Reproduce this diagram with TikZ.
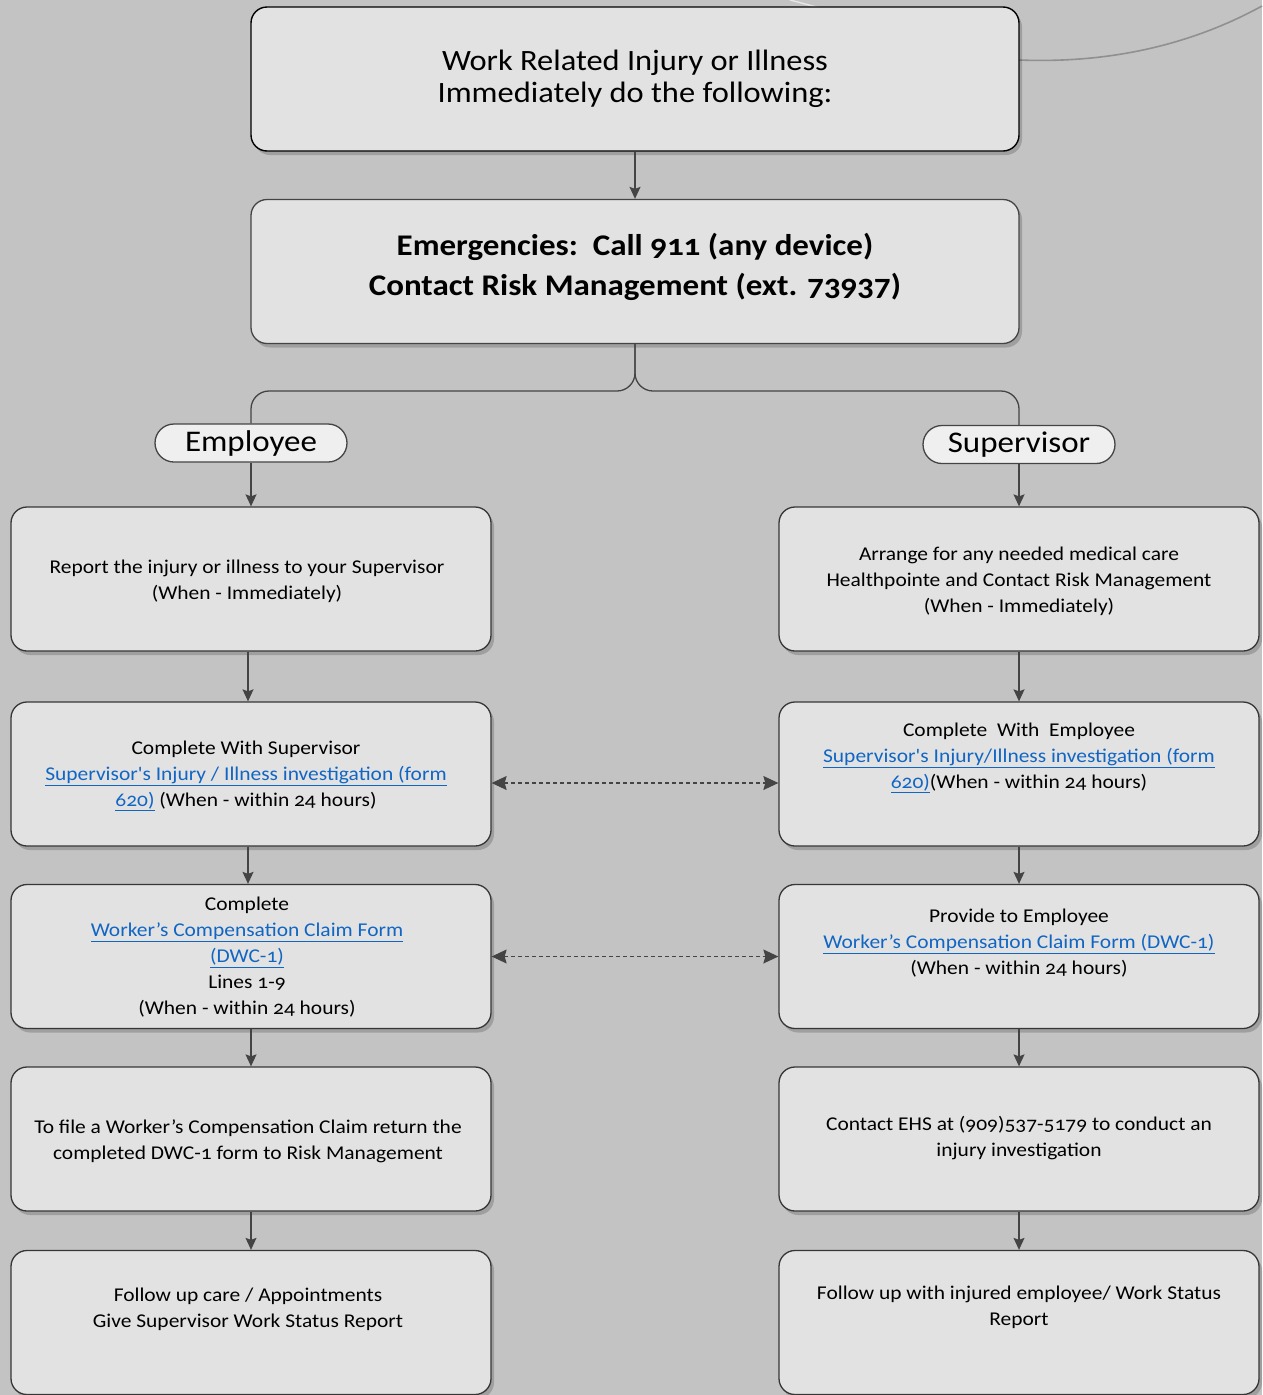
\documentclass[tikz,border=0pt]{standalone}
\usepackage{fontspec}
\setmainfont{Carlito}[Numbers=OldStyle, FakeStretch=1.1, Ligatures=TeXOff]
\usetikzlibrary{arrows.meta,shadows,calc}
\definecolor{bg}{HTML}{C3C3C3}
\definecolor{boxfill}{HTML}{E2E2E2}
\definecolor{pillfill}{HTML}{EFEFEF}
\definecolor{lnc}{HTML}{444444}
\definecolor{linkc}{HTML}{1166C4}
\newcommand\lnk[1]{\textcolor{linkc}{\underline{#1}}}
\begin{document}
\begin{tikzpicture}[x=1pt,y=-1pt,
  bigbox/.style={draw=black, line width=1.4pt, fill=boxfill, rounded corners=16pt,
    minimum width=768pt, minimum height=144pt, inner sep=0pt,
    drop shadow={shadow xshift=3pt, shadow yshift=-4pt, fill=black, opacity=0.18}},
  stepbox/.style={draw=lnc!80!black, line width=1.3pt, fill=boxfill, rounded corners=16pt,
    minimum width=480pt, minimum height=144pt, inner sep=0pt,
    drop shadow={shadow xshift=3pt, shadow yshift=-4pt, fill=black, opacity=0.18}},
  pill/.style={draw=lnc, line width=1.3pt, fill=pillfill, rounded corners=19pt,
    minimum width=192pt, minimum height=38pt, inner sep=0pt, font=\fontsize{30}{32}\selectfont},
  boxtext/.style={align=center, inner sep=0pt, font=\fontsize{19.5}{26}\selectfont},
  arr/.style={draw=lnc, line width=1.3pt, -{Stealth[length=12pt,width=11pt,inset=2pt]}},
  darr/.style={draw=lnc, line width=1.1pt, dashed, dash pattern=on 4pt off 3pt,
    {Stealth[length=15pt,width=14pt,inset=2pt]}-{Stealth[length=15pt,width=14pt,inset=2pt]}}
]
\fill[bg] (0,0) rectangle (1262,1395);
\useasboundingbox (0,0) rectangle (1262,1395);
% decorative curves
\draw[gray!75!bg, line width=1.6pt] (1019,60) .. controls (1120,64) and (1200,40) .. (1262,6);
\draw[white!60!bg, line width=1.4pt] (790,0) .. controls (860,18) and (940,45) .. (1019,52);

% top boxes
\node[bigbox, font=\fontsize{29.5}{32}\selectfont, align=center] (b1) at (635,79)
  {Work Related Injury or Illness\\Immediately do the following:};
\node[bigbox, draw=lnc, line width=1.3pt] (b2) at (635,271.5) {};
\node[align=center, inner sep=0pt, font=\fontsize{30}{40}\bfseries\selectfont] (tb2) at ([yshift=5pt]b2.center)
  {Emergencies:\ \ Call 911 (any device)\\Contact Risk Management (ext. 73937)};

% pills
\node[pill] (emp) at (251,443) {Employee};
\node[pill] (sup) at (1019,444.5) {Supervisor};

% left column boxes
\node[stepbox] (l1) at (251,579) {};
\node[stepbox] (l2) at (251,774) {};
\node[stepbox] (l3) at (251,956.5) {};
\node[stepbox] (l4) at (251,1139) {};
\node[stepbox] (l5) at (251,1322.5) {};
% right column boxes
\node[stepbox] (r1) at (1019,579) {};
\node[stepbox] (r2) at (1019,774) {};
\node[stepbox] (r3) at (1019,956.5) {};
\node[stepbox] (r4) at (1019,1139) {};
\node[stepbox] (r5) at (1019,1322.5) {};

% texts
\node[boxtext] (tl1) at ([xshift=-4pt,yshift=-2pt]l1.center) {Report the injury or illness to your Supervisor\\(When - Immediately)};
\node[boxtext] (tl2) at ([xshift=-5pt,yshift=-2pt]l2.center) {Complete With Supervisor\\\lnk{Supervisor's Injury / Illness investigation (form}\\\lnk{620)} (When - within 24 hours)};
\node[boxtext] (tl3) at ([xshift=-4pt,yshift=-1pt]l3.center) {Complete\\\lnk{Worker’s Compensation Claim Form}\\\lnk{(DWC-1)}\\Lines 1-9\\(When - within 24 hours)};
\node[boxtext] (tl4) at ([xshift=-3pt,yshift=-2pt]l4.center) {To file a Worker’s Compensation Claim return the\\completed DWC-1 form to Risk Management};
\node[boxtext] (tl5) at ([xshift=-3pt,yshift=13pt]l5.center) {Follow up care / Appointments\\Give Supervisor Work Status Report};
\node[boxtext] (tr1) at ([yshift=-2pt]r1.center) {Arrange for any needed medical care\\Healthpointe and Contact Risk Management\\(When - Immediately)};
\node[boxtext] (tr2) at ([yshift=16pt]r2.center) {Complete\ \ With\ \ Employee\\\lnk{Supervisor's Injury/Illness investigation (form}\\\lnk{620)}(When - within 24 hours)};
\node[boxtext] (tr3) at ([yshift=13pt]r3.center) {Provide to Employee\\\lnk{Worker’s Compensation Claim Form (DWC-1)}\\(When - within 24 hours)};
\node[boxtext] (tr4) at ([yshift=1pt]r4.center) {Contact EHS at (909)537-5179 to conduct an\\injury investigation};
\node[boxtext] (tr5) at ([yshift=15pt]r5.center) {Follow up with injured employee/ Work Status\\Report};

% connectors
\draw[arr] (b1.south) -- (b2.north);
\draw[draw=lnc, line width=1.3pt, rounded corners=18pt] (b2.south) -- (b2.south |- 0,391) -| (emp.north);
\draw[draw=lnc, line width=1.3pt, rounded corners=18pt] (b2.south) -- (b2.south |- 0,391) -| (sup.north);
\draw[arr] (emp.south) -- (l1.north);
\draw[arr] (sup.south) -- (r1.north);
\draw[arr] ([xshift=-3pt]l1.south) -- ([xshift=-3pt]l2.north);
\draw[arr] ([xshift=-3pt]l2.south) -- ([xshift=-3pt]l3.north);
\draw[arr] (l3.south) -- (l4.north);
\draw[arr] (l4.south) -- (l5.north);
\draw[arr] (r1.south) -- (r2.north);
\draw[arr] (r2.south) -- (r3.north);
\draw[arr] (r3.south) -- (r4.north);
\draw[arr] (r4.south) -- (r5.north);
\draw[darr] ([yshift=-9pt]l2.east) -- ([yshift=-9pt]r2.west);
\draw[darr] (l3.east) -- (r3.west);
\end{tikzpicture}
\end{document}
